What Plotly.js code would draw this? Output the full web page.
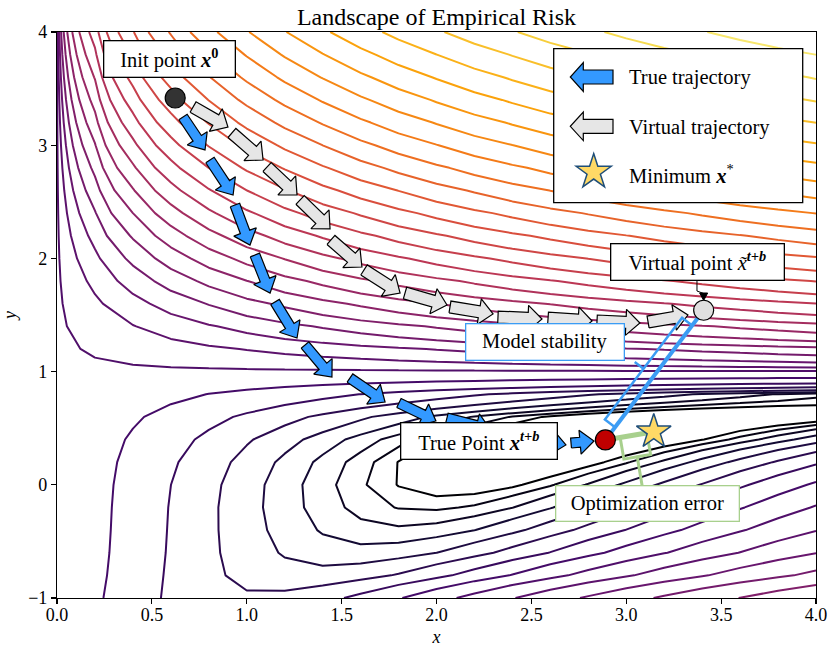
<!DOCTYPE html>
<html><head><meta charset="utf-8">
<script src="https://cdn.plot.ly/plotly-3.0.1.min.js"></script>
<style>body{margin:0;padding:0;background:#fff}#chart{width:830px;height:647px}</style>
</head><body><div id="chart"></div>
<script>
// ---------------- data ----------------
const riskCoefficients = [1.5, 2.25, 2.625];
const gridX = [0.0,0.2,0.4,0.6,0.8,1.0,1.2,1.4,1.6,1.8,2.0,2.2,2.4,2.6,2.8,3.0,3.2,3.4,3.6,3.8,4.0];
const gridY = [-1.0,-0.8,-0.6,-0.4,-0.2,0.0,0.2,0.4,0.6,0.8,1.0,1.2,1.4,1.6,1.8,2.0,2.2,2.4,2.6,2.8,3.0,3.2,3.4,3.6,3.8,4.0];
const levelExpMin = 0, levelExpMax = 5, levelCount = 35;

// true trajectory (blue arrows): tail -> tip
const trueTailX = [0.664, 0.806, 0.938, 1.043, 1.149, 1.307, 1.544, 1.802, 2.055, 2.335, 2.524, 2.709];
const trueTailY = [3.249, 2.869, 2.472, 2.030, 1.615, 1.235, 0.943, 0.723, 0.590, 0.466, 0.396, 0.369];
const trueTipX  = [0.780, 0.928, 1.017, 1.123, 1.265, 1.449, 1.729, 1.997, 2.282, 2.482, 2.682, 2.830];
const trueTipY  = [2.958, 2.560, 2.118, 1.694, 1.297, 0.952, 0.731, 0.564, 0.493, 0.413, 0.352, 0.387];

// virtual trajectory (gray arrows): tail -> tip
const virtTailX = [0.717, 0.922, 1.107, 1.281, 1.444, 1.618, 1.834, 2.071, 2.324, 2.588, 2.846, 3.115];
const virtTailY = [3.337, 3.108, 2.807, 2.516, 2.163, 1.898, 1.694, 1.571, 1.482, 1.473, 1.447, 1.438];
const virtTipX  = [0.901, 1.086, 1.265, 1.439, 1.607, 1.808, 2.055, 2.298, 2.556, 2.820, 3.072, 3.325];
const virtTipY  = [3.161, 2.869, 2.560, 2.260, 1.924, 1.694, 1.588, 1.509, 1.465, 1.447, 1.429, 1.500];

const initPoint = [0.623, 3.417];
const virtualPoint = [3.408, 1.542];
const truePoint = [2.890, 0.396];
const minimumPoint = [3.145, 0.469];

const xTickVals = [0, 0.5, 1, 1.5, 2, 2.5, 3, 3.5, 4];
const xTickText = ['0.0','0.5','1.0','1.5','2.0','2.5','3.0','3.5','4.0'];
const yTickVals = [-1, 0, 1, 2, 3, 4];
const yTickText = ['\u22121','0','1','2','3','4'];

// ---------------- geometry / style ----------------
const W = 830, H = 647, ML = 57, MR = 14, MT = 32, MB = 49;
const PW = W - ML - MR, PH = H - MT - MB;
const XR = [0, 4], YR = [-1, 4];
const FONT = "'Liberation Serif', 'Times New Roman', serif";
const pxX = x => ML + (x - XR[0]) / (XR[1] - XR[0]) * PW;
const pxY = y => MT + (YR[1] - y) / (YR[1] - YR[0]) * PH;
const dX = px => XR[0] + (px - ML) / PW * (XR[1] - XR[0]);
const dY = py => YR[1] - (py - MT) / PH * (YR[1] - YR[0]);
const paperX = px => (px - ML) / PW;
const paperY = py => (MT + PH - py) / PH;

const infernoStops = ['#000004','#160b39','#420a68','#6a176e','#932667','#bc3754','#dd513a','#f37819','#fca50a','#f6d746','#fcffa4'];
function hex2rgb(h){return [parseInt(h.slice(1,3),16),parseInt(h.slice(3,5),16),parseInt(h.slice(5,7),16)];}
function inferno(t){
  t = Math.max(0, Math.min(1, t));
  const s = t * (infernoStops.length - 1), i = Math.min(Math.floor(s), infernoStops.length - 2), f = s - i;
  const a = hex2rgb(infernoStops[i]), b = hex2rgb(infernoStops[i+1]);
  return 'rgb(' + a.map((v,k)=>Math.round(v + (b[k]-v)*f)).join(',') + ')';
}

function empiricalRisk(x, y){
  let s = 0;
  riskCoefficients.forEach((c, k) => { const t = c - x + x * Math.pow(y, k + 1); s += t * t; });
  return s;
}
const Z = gridY.map(y => gridX.map(x => empiricalRisk(x, y)));

const traces = [];
for (let i = 0; i < levelCount; i++) {
  const e = levelExpMin + (levelExpMax - levelExpMin) * i / (levelCount - 1);
  const L = Math.pow(10, e);
  traces.push({
    type: 'contour', x: gridX, y: gridY, z: Z, autocontour: false,
    contours: {start: L, end: L, size: L, coloring: 'none'},
    line: {color: inferno(i / (levelCount - 1)), width: 2, smoothing: 0},
    showscale: false, hoverinfo: 'skip', showlegend: false
  });
}

// arrow polygon built in pixel space
function arrowPx(t, p, sw, hw, hl){
  const dx = p[0]-t[0], dy = p[1]-t[1], L = Math.hypot(dx, dy);
  const ux = dx/L, uy = dy/L, nx = -uy, ny = ux;
  const bx = p[0]-ux*hl, by = p[1]-uy*hl;
  return [
    [t[0]+nx*sw/2, t[1]+ny*sw/2], [bx+nx*sw/2, by+ny*sw/2], [bx+nx*hw/2, by+ny*hw/2],
    [p[0], p[1]], [bx-nx*hw/2, by-ny*hw/2], [bx-nx*sw/2, by-ny*sw/2], [t[0]-nx*sw/2, t[1]-ny*sw/2],
    [t[0]+nx*sw/2, t[1]+ny*sw/2]
  ];
}
function arrowTrace(tx, ty, px, py, sw, hw, hl, fill){
  const X = [], Y = [];
  tx.forEach((_, i) => {
    const poly = arrowPx([pxX(tx[i]), pxY(ty[i])], [pxX(px[i]), pxY(py[i])], sw, hw, hl);
    poly.forEach(q => { X.push(dX(q[0])); Y.push(dY(q[1])); });
    X.push(null); Y.push(null);
  });
  return {type:'scatter', mode:'lines', x:X, y:Y, fill:'toself', fillcolor:fill,
          line:{color:'black', width:1.2}, hoverinfo:'skip', showlegend:false, connectgaps:false};
}
traces.push(arrowTrace(virtTailX, virtTailY, virtTipX, virtTipY, 12, 26, 14, '#e6e6e6'));
traces.push(arrowTrace(trueTailX, trueTailY, trueTipX, trueTipY, 10, 24, 14, '#3399ff'));

// brackets (pixel geometry)
function bracket(A, B, insA, insB, off, side, stemLen, color, wThick, wThin){
  const a = [pxX(A[0]), pxY(A[1])], b = [pxX(B[0]), pxY(B[1])];
  const dx = b[0]-a[0], dy = b[1]-a[1], L = Math.hypot(dx, dy), ux = dx/L, uy = dy/L;
  const nx = side * uy, ny = -side * ux;
  const p1 = [a[0]+ux*insA, a[1]+uy*insA], p2 = [b[0]-ux*insB, b[1]-uy*insB];
  const q1 = [p1[0]+nx*off, p1[1]+ny*off], q2 = [p2[0]+nx*off, p2[1]+ny*off];
  const m = [(q1[0]+q2[0])/2, (q1[1]+q2[1])/2], s = [m[0]+nx*stemLen, m[1]+ny*stemLen];
  const thick = {type:'scatter', mode:'lines', x:[A[0], B[0]], y:[A[1], B[1]],
    line:{color:color, width:wThick}, hoverinfo:'skip', showlegend:false};
  const pts = [p1, q1, m, s, m, q2, p2];
  const thin = {type:'scatter', mode:'lines', x:pts.map(q=>dX(q[0])), y:pts.map(q=>dY(q[1])),
    line:{color:color, width:wThin}, hoverinfo:'skip', showlegend:false};
  return [thick, thin];
}
traces.push(...bracket(truePoint, virtualPoint, 16, 19, 12.7, 1, 11, '#3b9cf4', 4, 2.5));
traces.push(...bracket(truePoint, minimumPoint, 15, 7, 22, -1, 29, '#a8d08d', 5, 3));

// connector for virtual point label
(function(){
  const vx = pxX(virtualPoint[0]);
  const pts = [[vx-6.7, 280.5], [vx-6.7, 291], [vx, 293.5], [vx, 295]];
  traces.push({type:'scatter', mode:'lines', x:pts.map(q=>dX(q[0])), y:pts.map(q=>dY(q[1])),
    line:{color:'black', width:1}, hoverinfo:'skip', showlegend:false});
  const tri = [[vx-4, 293], [vx+4, 293], [vx, 300.5], [vx-4, 293]];
  traces.push({type:'scatter', mode:'lines', x:tri.map(q=>dX(q[0])), y:tri.map(q=>dY(q[1])),
    fill:'toself', fillcolor:'black', line:{color:'black', width:1}, hoverinfo:'skip', showlegend:false});
})();

// points
function pointTrace(P, symbol, size, fill, edge, ew){
  return {type:'scatter', mode:'markers', x:[P[0]], y:[P[1]],
    marker:{symbol:symbol, size:size, color:fill, line:{color:edge, width:ew}},
    hoverinfo:'skip', showlegend:false, cliponaxis:false};
}
traces.push(pointTrace(initPoint, 'circle', 20, '#333333', 'black', 1.2));
traces.push(pointTrace(virtualPoint, 'circle', 20, '#e0e0e0', 'black', 1.2));
traces.push(pointTrace(truePoint, 'circle', 20, '#c00000', 'black', 1.2));
traces.push(pointTrace(minimumPoint, 'star', 26, '#ffd966', '#1f4e79', 1.5));

// ---------------- legend (manual) ----------------
const shapes = [];
shapes.push({type:'rect', xref:'paper', yref:'paper', x0:paperX(553.7), x1:paperX(802.7), y0:paperY(202.7), y1:paperY(48.7),
  line:{color:'black', width:1.3}, fillcolor:'white', layer:'above'});
function pathFromPx(pts){
  return 'M ' + pts.map(q => paperX(q[0]).toFixed(5) + ',' + paperY(q[1]).toFixed(5)).join(' L ') + ' Z';
}
shapes.push({type:'path', xref:'paper', yref:'paper', path:pathFromPx(arrowPx([613,77],[570.3,77],14,29,13)),
  fillcolor:'#3399ff', line:{color:'black', width:1.2}, layer:'above'});
shapes.push({type:'path', xref:'paper', yref:'paper', path:pathFromPx(arrowPx([613,126.3],[570.3,126.3],14,28.5,13)),
  fillcolor:'#e6e6e6', line:{color:'black', width:1.2}, layer:'above'});
(function(){
  const cx = 593.7, cy = 172, R = 18.4, r = R * 0.382, pts = [];
  for (let k = 0; k < 10; k++) {
    const ang = -Math.PI/2 + k * Math.PI / 5, rad = k % 2 ? r : R;
    pts.push([cx + rad*Math.cos(ang), cy + rad*Math.sin(ang)]);
  }
  shapes.push({type:'path', xref:'paper', yref:'paper', path:pathFromPx(pts),
    fillcolor:'#ffd966', line:{color:'#1f4e79', width:1.5}, layer:'above'});
})();

const annotations = [];
function textAt(px, py, text, anchor, size){
  annotations.push({xref:'paper', yref:'paper', x:paperX(px), y:paperY(py), xanchor:anchor||'left', yanchor:'middle',
    text:text, showarrow:false, font:{family:FONT, size:size||20.5, color:'black'}});
}
textAt(627, 77, 'True trajectory');
textAt(627, 128, 'Virtual trajectory');
textAt(627, 174, 'Minimum <b><i>x</i></b><sup>*</sup>');

function labelBox(cx, cy, w, h, text, border){
  annotations.push({xref:'paper', yref:'paper', x:paperX(cx), y:paperY(cy), xanchor:'center', yanchor:'middle',
    text:text, showarrow:false, bgcolor:'white', bordercolor:border, borderwidth:1.3, borderpad:0,
    width:w-3, height:h-3, align:'center', valign:'middle', font:{family:FONT, size:20.5, color:'black'}});
}
labelBox(169.5, 59, 133, 38, 'Init point <b><i>x</i></b><sup><b>0</b></sup>', 'black');
labelBox(697.5, 261.5, 175, 38, 'Virtual point <i>x\u0303</i><sup><b><i>t+b</i></b></sup>', 'black');
labelBox(545, 342, 160, 38, 'Model stability', '#3b9cf4');
labelBox(479, 440.5, 158, 38, 'True Point <b><i>x</i></b><sup><b><i>t+b</i></b></sup>', 'black');
labelBox(647.7, 503.5, 185, 37, 'Optimization error', '#a8d08d');

const axisCommon = {showgrid:false, zeroline:false, showline:true, linecolor:'black', linewidth:1.1, mirror:true,
  ticks:'outside', ticklen:5, tickwidth:1.1, tickcolor:'black', tickmode:'array',
  tickfont:{family:FONT, size:18, color:'black'}, fixedrange:true};

const layout = {
  width:W, height:H, margin:{l:ML, r:MR, t:MT, b:MB, pad:0},
  paper_bgcolor:'white', plot_bgcolor:'white', showlegend:false,
  font:{family:FONT, color:'black'},
  title:{text:'Landscape of Empirical Risk', font:{family:FONT, size:24, color:'black'},
         x:0.5, xref:'paper', y:1 - 17/H, yref:'container', yanchor:'middle'},
  xaxis:Object.assign({}, axisCommon, {range:XR, tickvals:xTickVals, ticktext:xTickText, ticklabelstandoff:-5,
         title:{text:'<i>x</i>', font:{family:FONT, size:18, color:'black'}, standoff:14}}),
  yaxis:Object.assign({}, axisCommon, {range:YR, tickvals:yTickVals, ticktext:yTickText,
         title:{text:'<i>y</i>', font:{family:FONT, size:18, color:'black'}, standoff:10}}),
  shapes:shapes, annotations:annotations
};
Plotly.newPlot('chart', traces, layout, {displayModeBar:false, staticPlot:true});
</script></body></html>
